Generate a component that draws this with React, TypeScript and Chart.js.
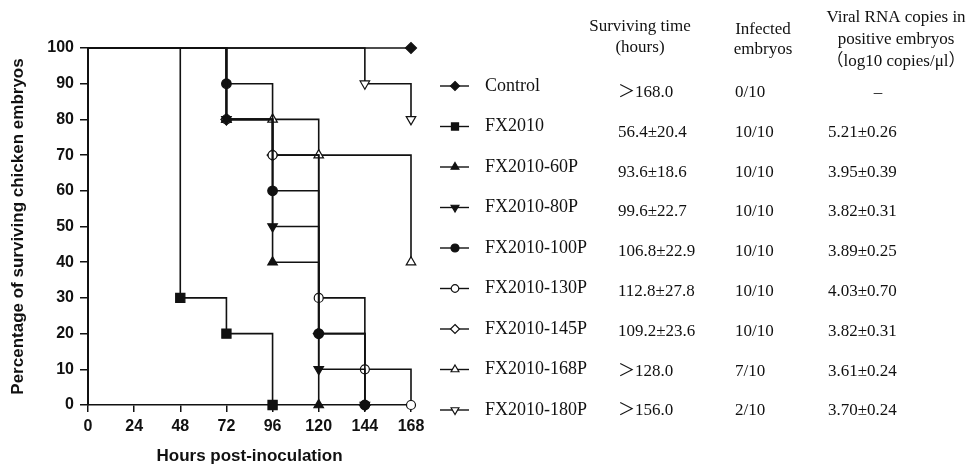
import React, { useEffect, useRef } from 'react';
import { Chart, registerables } from 'chart.js';

Chart.register(...registerables);

// ---------- data ----------
const seriesNames = [
  'Control', 'FX2010', 'FX2010-60P', 'FX2010-80P', 'FX2010-100P',
  'FX2010-130P', 'FX2010-145P', 'FX2010-168P', 'FX2010-180P',
];

const controlHours = [0, 168];
const controlPct = [100, 100];
const fx2010Hours = [0, 48, 72, 96];
const fx2010Pct = [100, 30, 20, 0];
const p60Hours = [0, 72, 96, 120];
const p60Pct = [100, 80, 40, 0];
const p80Hours = [0, 72, 96, 120, 144];
const p80Pct = [100, 80, 50, 10, 0];
const p100Hours = [0, 72, 96, 120, 144];
const p100Pct = [100, 90, 60, 20, 0];
const p130Hours = [0, 72, 96, 120, 144, 168];
const p130Pct = [100, 80, 70, 30, 10, 0];
const p145Hours = [0, 72, 96, 120, 144];
const p145Pct = [100, 80, 70, 20, 0];
const p168Hours = [0, 72, 96, 120, 168];
const p168Pct = [100, 80, 80, 70, 40];
const p180Hours = [0, 144, 168];
const p180Pct = [100, 90, 80];

const seriesHours = [controlHours, fx2010Hours, p60Hours, p80Hours, p100Hours, p130Hours, p145Hours, p168Hours, p180Hours];
const seriesPct = [controlPct, fx2010Pct, p60Pct, p80Pct, p100Pct, p130Pct, p145Pct, p168Pct, p180Pct];

const survivingTime = ['＞168.0', '56.4±20.4', '93.6±18.6', '99.6±22.7', '106.8±22.9', '112.8±27.8', '109.2±23.6', '＞128.0', '＞156.0'];
const infectedEmbryos = ['0/10', '10/10', '10/10', '10/10', '10/10', '10/10', '10/10', '7/10', '2/10'];
const viralCopies = ['–', '5.21±0.26', '3.95±0.39', '3.82±0.31', '3.89±0.25', '4.03±0.70', '3.82±0.31', '3.61±0.24', '3.70±0.24'];

const headerSurviving = ['Surviving time', '(hours)'];
const headerInfected = ['Infected', 'embryos'];
const headerViral = ['Viral RNA copies in', 'positive embryos', '（log10 copies/μl）'];

const xMin = 0;
const xMax = 168;
const xStep = 24;
const yMin = 0;
const yMax = 100;
const yStep = 10;
const xTitle = 'Hours post-inoculation';
const yTitle = 'Percentage of surviving chicken embryos';

// ---------- styles ----------
type Marker = { style: string; rot: number; filled: boolean; r: number; lr: number };
const markers: Marker[] = [
  { style: 'rectRot', rot: 0, filled: true, r: 5.5, lr: 4.5 },
  { style: 'rect', rot: 0, filled: true, r: 6.5, lr: 5 },
  { style: 'triangle', rot: 0, filled: true, r: 5.5, lr: 4.5 },
  { style: 'triangle', rot: 180, filled: true, r: 5.5, lr: 4.5 },
  { style: 'circle', rot: 0, filled: true, r: 4.8, lr: 4 },
  { style: 'circle', rot: 0, filled: false, r: 4.5, lr: 3.8 },
  { style: 'rectRot', rot: 0, filled: false, r: 5.5, lr: 4.5 },
  { style: 'triangle', rot: 0, filled: false, r: 5.5, lr: 4.5 },
  { style: 'triangle', rot: 180, filled: false, r: 5.5, lr: 4.5 },
];

const INK = '#111111';
const SANS = '"Liberation Sans", Arial, Helvetica, sans-serif';
const SERIF = '"Liberation Serif", "Times New Roman", "Noto Sans CJK SC", serif';

function drawMarker(ctx: CanvasRenderingContext2D, m: Marker, x: number, y: number, r: number) {
  ctx.save();
  ctx.translate(x, y);
  ctx.rotate((m.rot * Math.PI) / 180);
  ctx.beginPath();
  if (m.style === 'circle') {
    ctx.arc(0, 0, r, 0, Math.PI * 2);
  } else if (m.style === 'rect') {
    const s = r * Math.SQRT1_2;
    ctx.rect(-s, -s, 2 * s, 2 * s);
  } else if (m.style === 'rectRot') {
    ctx.moveTo(0, -r);
    ctx.lineTo(r, 0);
    ctx.lineTo(0, r);
    ctx.lineTo(-r, 0);
    ctx.closePath();
  } else {
    const h = r * 1.5;
    ctx.moveTo(0, -r);
    ctx.lineTo(r * 0.87, h - r);
    ctx.lineTo(-r * 0.87, h - r);
    ctx.closePath();
  }
  ctx.fillStyle = m.filled ? INK : '#ffffff';
  ctx.fill();
  ctx.lineWidth = 1.2;
  ctx.strokeStyle = INK;
  ctx.stroke();
  ctx.restore();
}

const tablePlugin = {
  id: 'survivalTable',
  beforeDraw(chart: any) {
    const ctx = chart.ctx as CanvasRenderingContext2D;
    ctx.save();
    ctx.fillStyle = '#ffffff';
    ctx.fillRect(0, 0, chart.width, chart.height);
    ctx.restore();
  },
  afterDraw(chart: any) {
    const ctx = chart.ctx as CanvasRenderingContext2D;
    ctx.save();
    ctx.fillStyle = INK;
    ctx.textBaseline = 'middle';

    // headers
    ctx.font = `17px ${SERIF}`;
    ctx.textAlign = 'center';
    headerSurviving.forEach((t, i) => ctx.fillText(t, 640, 27 + i * 21));
    headerInfected.forEach((t, i) => ctx.fillText(t, 763, 30 + i * 20));
    headerViral.forEach((t, i) => ctx.fillText(t, 896, 18 + i * 22));

    seriesNames.forEach((name, i) => {
      const ly = 86 + i * 40.5;
      const vy = 92.5 + i * 39.8;
      // legend line + marker
      ctx.beginPath();
      ctx.moveTo(440, ly);
      ctx.lineTo(469, ly);
      ctx.lineWidth = 1.4;
      ctx.strokeStyle = INK;
      ctx.stroke();
      drawMarker(ctx, markers[i], 455, ly, markers[i].lr);

      ctx.fillStyle = INK;
      ctx.textAlign = 'left';
      ctx.font = `18px ${SERIF}`;
      ctx.fillText(name, 485, ly);

      ctx.font = `17px ${SERIF}`;
      ctx.fillText(survivingTime[i], 618, vy);
      ctx.fillText(infectedEmbryos[i], 735, vy);
      if (i === 0) {
        ctx.textAlign = 'center';
        ctx.fillText(viralCopies[i], 878, vy);
      } else {
        ctx.fillText(viralCopies[i], 828, vy);
      }
    });
    ctx.restore();
  },
};

export default function App() {
  const canvasRef = useRef<HTMLCanvasElement | null>(null);

  useEffect(() => {
    const canvas = canvasRef.current;
    if (!canvas) return;

    const datasets = seriesNames.map((name, i) => {
      const m = markers[i];
      const hours = seriesHours[i];
      const pct = seriesPct[i];
      return {
        label: name,
        data: hours.map((h, k) => ({ x: h, y: pct[k] })),
        stepped: 'before' as const,
        borderColor: INK,
        borderWidth: 1.6,
        fill: false,
        clip: false as any,
        pointStyle: m.style as any,
        rotation: m.rot,
        pointRadius: hours.map((_, k) => (k === 0 ? 0 : m.r)),
        pointHoverRadius: hours.map((_, k) => (k === 0 ? 0 : m.r)),
        pointBackgroundColor: m.filled ? INK : '#ffffff',
        pointBorderColor: INK,
        pointBorderWidth: 1.2,
      };
    });

    const chart = new Chart(canvas, {
      type: 'line',
      data: { datasets },
      plugins: [tablePlugin],
      options: {
        responsive: false,
        maintainAspectRatio: false,
        animation: false,
        devicePixelRatio: 1,
        layout: { padding: { top: 48, right: 560, left: 0, bottom: 0 } },
        plugins: {
          legend: { display: false },
          tooltip: { enabled: false },
        },
        scales: {
          x: {
            type: 'linear',
            min: xMin,
            max: xMax,
            afterFit: (s: any) => { s.height = 64; },
            ticks: {
              stepSize: xStep,
              color: INK,
              padding: 5,
              font: { family: SANS, size: 16, weight: 'bold' },
            },
            grid: {
              drawOnChartArea: false,
              drawTicks: true,
              tickLength: 7,
              color: INK,
              lineWidth: 1.5,
            },
            border: { display: true, color: INK, width: 1.6 },
            title: {
              display: true,
              text: xTitle,
              color: INK,
              padding: { top: 0, bottom: 2 },
              font: { family: SANS, size: 17, weight: 'bold' },
            },
          },
          y: {
            type: 'linear',
            min: yMin,
            max: yMax,
            afterFit: (s: any) => { s.width = 88; },
            ticks: {
              stepSize: yStep,
              color: INK,
              padding: 6,
              font: { family: SANS, size: 16, weight: 'bold' },
            },
            grid: {
              drawOnChartArea: false,
              drawTicks: true,
              tickLength: 8,
              color: INK,
              lineWidth: 1.5,
            },
            border: { display: true, color: INK, width: 2 },
            title: {
              display: true,
              text: yTitle,
              color: INK,
              padding: { top: 8, bottom: 0 },
              font: { family: SANS, size: 17, weight: 'bold' },
            },
          },
        },
      },
    });

    return () => chart.destroy();
  }, []);

  return (
    <div style={{ position: 'absolute', left: 0, top: 0, width: 971, height: 469, background: '#ffffff' }}>
      <canvas ref={canvasRef} width={971} height={469} style={{ display: 'block' }} />
    </div>
  );
}
